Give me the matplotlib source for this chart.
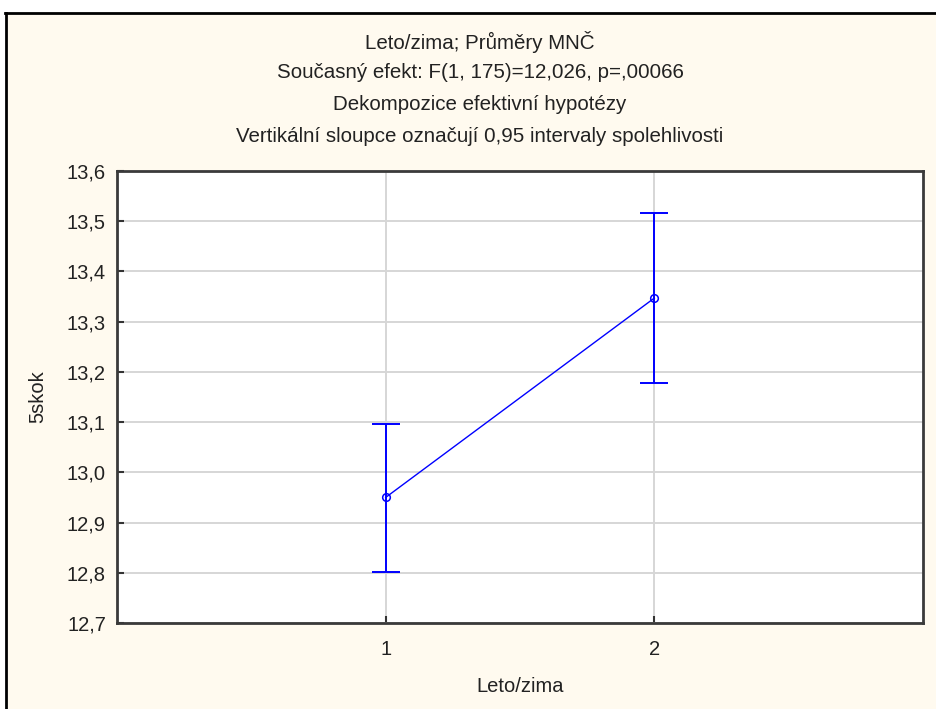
import matplotlib.pyplot as plt
from matplotlib.patches import Rectangle
from matplotlib.lines import Line2D

# data
groups = [1, 2]
means = [12.950, 13.347]
ci_low = [12.802, 13.178]
ci_high = [13.097, 13.516]
yticks = [12.7, 12.8, 12.9, 13.0, 13.1, 13.2, 13.3, 13.4, 13.5, 13.6]
ytick_labels = ["12,7", "12,8", "12,9", "13,0", "13,1", "13,2", "13,3", "13,4", "13,5", "13,6"]

title_lines = ["Leto/zima; Průměry MNČ",
               "Současný efekt: F(1, 175)=12,026, p=,00066",
               "Dekompozice efektivní hypotézy",
               "Vertikální sloupce označují 0,95 intervaly spolehlivosti"]

plt.rcParams['font.family'] = ['Liberation Sans', 'DejaVu Sans']
txt_col = '#222222'
blue = '#0000FF'

W, H = 937, 709
fig = plt.figure(figsize=(W / 100, H / 100), dpi=100)
fig.patch.set_facecolor('white')

# cream panel with black top/left frame
bg = Rectangle((6 / W, 0), 1, 1 - 13 / H, transform=fig.transFigure,
               facecolor='#FFFAEF', edgecolor='none', zorder=-10)
fig.patches.append(bg)
fig.lines.append(Line2D([5 / W, 1], [1 - 13 / H, 1 - 13 / H], transform=fig.transFigure,
                        color='black', lw=2, zorder=-5))
fig.lines.append(Line2D([6 / W, 6 / W], [0, 1 - 13 / H], transform=fig.transFigure,
                        color='black', lw=2, zorder=-5))

ys = [42, 73, 105, 137]
for t, y in zip(title_lines, ys):
    fig.text(480 / W, 1 - y / H, t, ha='center', va='center', fontsize=14.8, color=txt_col)

ax = fig.add_axes([117 / W, 1 - 623 / H, (923 - 117) / W, (623 - 171) / H])
ax.set_zorder(1)
ax.set_facecolor('white')

yerr = [[m - l for m, l in zip(means, ci_low)], [h - m for m, h in zip(means, ci_high)]]
ax.plot(groups, means, color=blue, lw=1.0, zorder=3)
ax.errorbar(groups, means, yerr=yerr, fmt='none', ecolor=blue, elinewidth=1.4,
            capsize=10, capthick=1.4, zorder=3)
ax.plot(groups, means, 'o', ms=5.5, mfc='none', mec=blue, mew=1.1, zorder=4)

ax.set_xlim(0, 3)
ax.set_ylim(12.7, 13.6)
ax.set_xticks(groups)
ax.set_xticklabels([str(g) for g in groups])
ax.set_yticks(yticks)
ax.set_yticklabels(ytick_labels)
ax.grid(True, color='#D6D6D6', lw=1.4, zorder=0)
ax.set_axisbelow(True)

for s in ax.spines.values():
    s.set_color('#3A3A3A')
    s.set_linewidth(2)

ax.tick_params(axis='both', direction='in', length=5, width=1.5, color='#333333',
               labelsize=14.5, labelcolor=txt_col)
ax.tick_params(axis='y', pad=8)
ax.tick_params(axis='x', pad=12)

ax.set_xlabel("Leto/zima", fontsize=14.5, color=txt_col)
ax.xaxis.set_label_coords(0.5, -0.1195)
ax.set_ylabel("5skok", fontsize=14.5, color=txt_col)
ax.yaxis.set_label_coords(-0.0868, 0.5)

fig.savefig('out.png', dpi=100)
